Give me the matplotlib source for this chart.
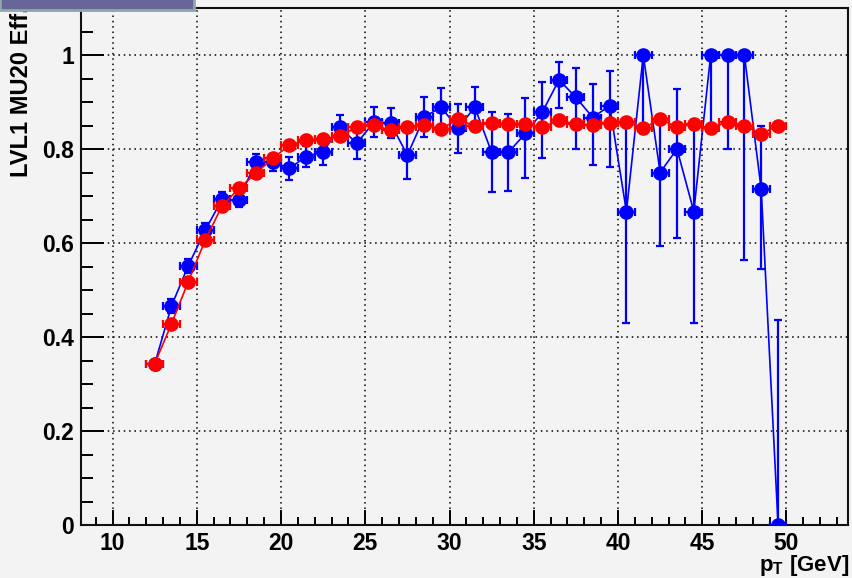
import numpy as np
import matplotlib
matplotlib.use("Agg")
import matplotlib.pyplot as plt
from matplotlib.patches import Rectangle
from matplotlib.ticker import MultipleLocator

plt.rcParams['font.family'] = ['Liberation Sans', 'DejaVu Sans']
plt.rcParams['font.weight'] = 'bold'
plt.rcParams['mathtext.fontset'] = 'custom'
plt.rcParams['mathtext.rm'] = 'Liberation Sans:bold'
plt.rcParams['mathtext.it'] = 'Liberation Sans:bold'
plt.rcParams['mathtext.bf'] = 'Liberation Sans:bold'

# bin centres in pT [GeV]
pt_bins = [12.5, 13.5, 14.5, 15.5, 16.5, 17.5, 18.5, 19.5, 20.5, 21.5,
           22.5, 23.5, 24.5, 25.5, 26.5, 27.5, 28.5, 29.5, 30.5, 31.5,
           32.5, 33.5, 34.5, 35.5, 36.5, 37.5, 38.5, 39.5, 40.5, 41.5,
           42.5, 43.5, 44.5, 45.5, 46.5, 47.5, 48.5, 49.5]

# efficiency, blue sample
eff_blue = [0.342, 0.466, 0.552, 0.627, 0.693, 0.691, 0.773, 0.772, 0.759, 0.784,
            0.794, 0.846, 0.812, 0.857, 0.855, 0.787, 0.868, 0.889, 0.844, 0.889,
            0.793, 0.793, 0.833, 0.878, 0.947, 0.910, 0.867, 0.892, 0.667, 1.000,
            0.750, 0.800, 0.667, 1.000, 1.000, 1.000, 0.714, 0.000]
err_blue_lo = [0.010, 0.015, 0.015, 0.015, 0.015, 0.015, 0.016, 0.018, 0.024, 0.022,
               0.027, 0.026, 0.033, 0.032, 0.032, 0.050, 0.042, 0.040, 0.052, 0.042,
               0.085, 0.082, 0.094, 0.098, 0.060, 0.109, 0.100, 0.130, 0.237, 0.160,
               0.156, 0.190, 0.237, 0.160, 0.200, 0.436, 0.170, 0.000]
err_blue_hi = [0.010, 0.015, 0.015, 0.015, 0.015, 0.015, 0.016, 0.018, 0.024, 0.022,
               0.027, 0.026, 0.033, 0.032, 0.032, 0.050, 0.042, 0.040, 0.052, 0.042,
               0.085, 0.082, 0.075, 0.065, 0.039, 0.062, 0.071, 0.073, 0.190, 0.000,
               0.110, 0.127, 0.190, 0.000, 0.000, 0.000, 0.135, 0.436]

# efficiency, red sample
eff_red = [0.343, 0.428, 0.518, 0.606, 0.679, 0.716, 0.748, 0.780, 0.808, 0.819,
           0.821, 0.828, 0.846, 0.851, 0.840, 0.847, 0.851, 0.843, 0.863, 0.849,
           0.856, 0.853, 0.853, 0.846, 0.861, 0.853, 0.851, 0.855, 0.858, 0.844,
           0.864, 0.846, 0.853, 0.844, 0.858, 0.850, 0.832, 0.850]
err_red = [0.006] * len(eff_red)

bin_half_width = 0.5

W, H = 852, 578
fig = plt.figure(figsize=(W / 100, H / 100), dpi=100)
fig.patch.set_facecolor('#f3f3f3')
ax = fig.add_axes([81 / W, 1 - 525 / H, (848 - 81) / W, (525 - 8) / H])
ax.set_facecolor('#f3f3f3')

x = np.array(pt_bins)
xerr = np.full(len(x), bin_half_width)

ax.errorbar(x, eff_blue, yerr=[err_blue_lo, err_blue_hi], xerr=xerr,
            fmt='o-', color='#0000ff', ms=9.5, lw=1.2, elinewidth=1.6,
            capsize=3, capthick=1.6, zorder=3)
ax.errorbar(x, eff_red, yerr=err_red, xerr=xerr,
            fmt='o-', color='#ff0000', ms=9.5, lw=1.2, elinewidth=1.6,
            capsize=3, capthick=1.6, zorder=4)

ax.set_xlim(8.13, 53.65)
ax.set_ylim(0, 1.1)

ax.xaxis.set_major_locator(MultipleLocator(5))
ax.xaxis.set_minor_locator(MultipleLocator(1))
ax.yaxis.set_major_locator(MultipleLocator(0.2))
ax.yaxis.set_minor_locator(MultipleLocator(0.05))
ax.yaxis.set_major_formatter(plt.FuncFormatter(lambda v, p: '%g' % round(v, 2)))

ax.tick_params(axis='x', which='major', direction='in', length=11, width=1.4,
               labelsize=16.5, pad=5)
ax.tick_params(axis='x', which='minor', direction='in', length=5.5, width=1.4)
ax.tick_params(axis='y', which='major', direction='in', length=16.5, width=1.4,
               labelsize=16.5, pad=5)
ax.tick_params(axis='y', which='minor', direction='in', length=8.3, width=1.4)
for lab in ax.get_xticklabels() + ax.get_yticklabels():
    lab.set_fontweight('bold')

ax.grid(True, which='major', color='black', linestyle=(0, (1, 2.5)), linewidth=1.1)
ax.set_axisbelow(True)
for sp in ax.spines.values():
    sp.set_linewidth(1.5)
    sp.set_color('#111111')

# axis titles placed ROOT-style at the far ends
fig.text(22 / W, 1 - 6 / H, 'LVL1 MU20 Eff.', rotation=90, ha='center', va='top',
         fontsize=17, fontweight='bold')
fig.text(849 / W, 1 - 553 / H, r'p$_{\rm T}$ [GeV]', ha='right', va='top',
         fontsize=16, fontweight='bold')

# title pad sticking out at the top left
fig.patches.append(Rectangle((0, 1 - 10 / H), 194 / W, 12 / H, transform=fig.transFigure,
                             facecolor='#666699', edgecolor='#8fa8a8', linewidth=2,
                             zorder=10))

fig.savefig('out.png', dpi=100, facecolor=fig.get_facecolor())
